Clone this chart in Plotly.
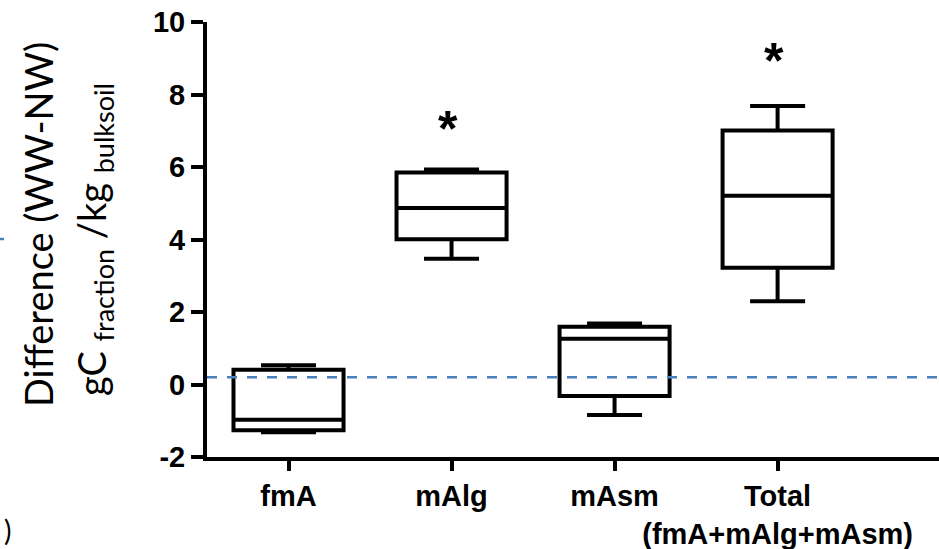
import plotly.graph_objects as go

# ---- data ----
categories = ["fmA", "mAlg", "mAsm", "Total<br>(fmA+mAlg+mAsm)"]
positions = [0, 1, 2, 3]
lower_whisker = [-1.32, 3.47, -0.84, 2.30]
q1_values = [-1.26, 4.01, -0.32, 3.22]
median_values = [-0.97, 4.87, 1.26, 5.21]
q3_values = [0.41, 5.85, 1.59, 7.01]
upper_whisker = [0.53, 5.93, 1.68, 7.68]
asterisk_y = [None, 7.05, None, 8.93]
reference_level = 0.2
y_ticks = [-2, 0, 2, 4, 6, 8, 10]
y_tick_labels = ["-2", "0", "2", "4", "6", "8", "10"]

W, H = 939, 549
L, R, T, B = 207, 0, 22, 92
PW = W - L - R
PH = H - T - B

def px_x(p):
    return (p - L) / PW

def px_y(p):
    return (H - B - p) / PH

fig = go.Figure()
fig.add_trace(go.Box(
    x=positions,
    q1=q1_values, median=median_values, q3=q3_values,
    lowerfence=lower_whisker, upperfence=upper_whisker,
    width=0.675, whiskerwidth=0.5,
    line=dict(color="black", width=4),
    fillcolor="white",
    boxpoints=False, hoverinfo="skip", showlegend=False,
))

# dashed reference line
fig.add_shape(type="line", xref="paper", yref="y", x0=0, x1=1,
              y0=reference_level, y1=reference_level,
              line=dict(color="#4a7fc0", width=2.5, dash="10px,10px"),
              layer="above")
# stray dash at far left (cropped neighbour panel)
fig.add_shape(type="line", xref="paper", yref="paper", x0=px_x(0), x1=px_x(4),
              y0=px_y(239), y1=px_y(239),
              line=dict(color="#4a7fc0", width=2.5))

annotations = []
for pos, ay in zip(positions, asterisk_y):
    if ay is not None:
        annotations.append(dict(x=pos, y=ay, xref="x", yref="y",
                                text="<b>*</b>", showarrow=False,
                                font=dict(family="Liberation Sans", size=50, color="black"),
                                xanchor="center", yanchor="middle", xshift=-4))

title_font = dict(family="Lato", size=38, color="black", weight=400)
annotations.append(dict(x=px_x(38), y=px_y(225), xref="paper", yref="paper",
                        text="Difference (WW-NW)", textangle=-90, showarrow=False,
                        font=title_font, xanchor="center", yanchor="middle"))
annotations.append(dict(x=px_x(94), y=px_y(240), xref="paper", yref="paper",
                        text=("gC <sub><span style='font-size:27px'>fraction</span></sub> "
                              "/kg <sub><span style='font-size:27px'>bulksoil</span></sub>"),
                        textangle=-90,
                        showarrow=False, font=title_font, xanchor="center", yanchor="middle"))
annotations.append(dict(x=px_x(8), y=px_y(530), xref="paper", yref="paper",
                        text=")", showarrow=False,
                        font=dict(family="Lato", size=28, color="black"),
                        xanchor="center", yanchor="middle"))

tick_font = dict(family="Liberation Sans", size=29, color="black", weight="bold")

fig.update_layout(
    width=W, height=H,
    margin=dict(l=L, r=R, t=T, b=B, pad=0),
    paper_bgcolor="white", plot_bgcolor="white",
    annotations=annotations,
    xaxis=dict(range=[-0.5, 3.99], tickvals=positions, ticktext=categories,
               tickangle=0,
               showgrid=False, zeroline=False, showline=True, linecolor="black",
               linewidth=4, ticks="outside", ticklen=10, tickwidth=3.5,
               tickcolor="black", tickfont=tick_font, fixedrange=True),
    yaxis=dict(range=[-2, 10], tickvals=y_ticks, ticktext=y_tick_labels,
               showgrid=False, zeroline=False,
               showline=True, linecolor="black", linewidth=4, ticks="outside",
               ticklen=12, tickwidth=3.5, tickcolor="black", tickfont=tick_font,
               fixedrange=True),
)

fig.write_html("out.html")
